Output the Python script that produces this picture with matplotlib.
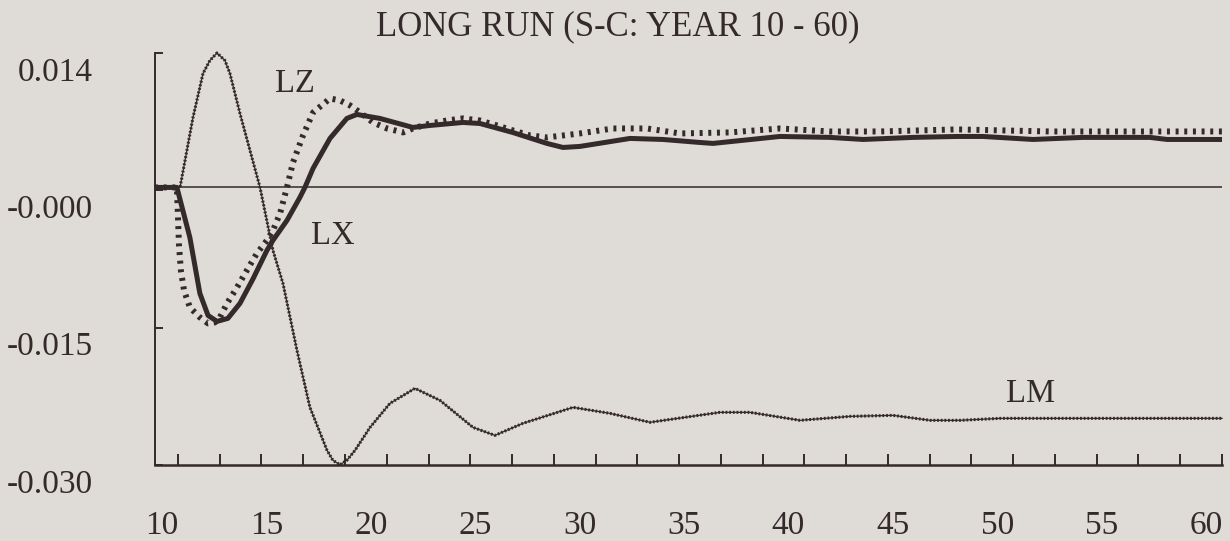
import numpy as np
import matplotlib
matplotlib.use("Agg")
import matplotlib.pyplot as plt
from matplotlib.ticker import FormatStrFormatter
from matplotlib.transforms import ScaledTranslation

plt.rcParams['font.family'] = ['Liberation Serif', 'DejaVu Serif']

INK = '#342a2b'
PAPER = '#dfdbd7'

# simulated responses, years 10 - 60
lx_year = [8.90, 9.95, 10.57, 11.05, 11.44, 11.87, 12.39, 12.97, 13.60, 14.26, 14.55,
           15.22, 15.84, 16.08, 16.47, 17.28, 18.09, 18.57, 19.67, 21.25, 22.07,
           23.65, 24.46, 26.04, 27.67, 28.44, 29.25, 31.65, 33.23, 35.00, 35.62,
           38.83, 41.23, 42.81, 45.20, 47.31, 48.55, 50.95, 53.34, 56.55, 57.37,
           60.00]
lx = [0.0, 0.0, -0.00532, -0.01127, -0.01361, -0.01425, -0.01393, -0.01233, -0.00970, -0.00670, -0.00563,
      -0.00351, -0.00106, 0.0, 0.00202, 0.00521, 0.00734, 0.00776, 0.00734, 0.00638, 0.00659,
      0.00691, 0.00680, 0.00584, 0.00468, 0.00425, 0.00436, 0.00521, 0.00510, 0.00478, 0.00468,
      0.00542, 0.00532, 0.00510, 0.00532, 0.00542, 0.00542, 0.00510, 0.00532, 0.00532, 0.00510,
      0.00510]

lz_year = [8.90, 9.95, 10.05, 10.14, 10.29, 10.57, 11.05, 11.44, 11.77, 12.01,
           12.35, 12.83, 13.30, 13.78, 14.26, 14.55, 14.89, 15.22, 15.51, 15.99,
           16.47, 17.28, 17.76, 18.24, 18.72, 19.34, 20.01, 20.78, 21.25, 22.07,
           22.88, 23.65, 24.46, 25.28, 26.04, 26.86, 27.67, 29.25, 30.83, 32.46,
           34.04, 36.44, 38.83, 41.23, 43.62, 47.31, 51.76, 60.00]
lz = [0.0, 0.0, -0.00617, -0.00882, -0.01095, -0.01276, -0.01382, -0.01446, -0.01435, -0.01382,
      -0.01233, -0.01063, -0.00882, -0.00702, -0.00563, -0.00457, -0.00276, 0.0, 0.00266, 0.00553,
      0.00797, 0.00946, 0.00925, 0.00872, 0.00797, 0.00691, 0.00627, 0.00585, 0.00627, 0.00680,
      0.00712, 0.00734, 0.00712, 0.00659, 0.00606, 0.00553, 0.00532, 0.00574, 0.00627, 0.00627,
      0.00574, 0.00585, 0.00627, 0.00595, 0.00595, 0.00617, 0.00595, 0.00595]

lm_year = [8.90, 10.10, 10.72, 11.20, 11.53, 11.87, 12.25, 12.49, 12.97, 13.45,
           13.93, 14.55, 15.03, 15.70, 16.32, 17.14, 17.42, 17.76, 18.09, 18.48,
           19.20, 20.15, 21.35, 22.55, 24.13, 25.18, 26.52, 28.92, 30.69, 32.61,
           35.96, 37.39, 39.79, 42.18, 44.24, 46.02, 47.45, 49.37, 54.16, 60.00]
lm = [0.0, 0.0, 0.00744, 0.01212, 0.01350, 0.01430, 0.01350, 0.01212, 0.00787, 0.00393,
      0.0, -0.00670, -0.01021, -0.01733, -0.02339, -0.02796, -0.02902, -0.02950, -0.02902, -0.02796,
      -0.02552, -0.02297, -0.02137, -0.02265, -0.02552, -0.02637, -0.02509, -0.02339, -0.02403, -0.02498,
      -0.02392, -0.02392, -0.02477, -0.02435, -0.02424, -0.02477, -0.02477, -0.02456, -0.02456, -0.02456]

y_lo, y_hi = -0.02952, 0.0143

fig = plt.figure(figsize=(12.3, 5.41), dpi=100, facecolor=PAPER)
ax = fig.add_axes([0.126, 0.1405, 0.8675, 0.7616])
ax.set_facecolor(PAPER)

ax.axhline(0, color=INK, lw=1.1, zorder=1)
# LM: thin core with a dotted fringe for the ragged look
ax.plot(lm_year, lm, color=INK, lw=0.9, clip_on=False, zorder=2)
ax.plot(lm_year, lm, color=INK, lw=2.2, ls=(0, (0.6, 0.6)), clip_on=False, zorder=2)
ax.plot(lz_year, lz, color=INK, lw=4.3, ls=(0, (0.5, 0.95)), dash_capstyle='butt',
        clip_on=False, zorder=3)
ax.plot(lx_year, lx, color=INK, lw=3.6, solid_capstyle='butt', clip_on=False, zorder=4)

ax.set_xlim(8.9, 60)
ax.set_ylim(y_lo, y_hi)

ax.set_yticks(np.linspace(y_lo, y_hi, 4))
ax.yaxis.set_major_formatter(FormatStrFormatter('%.3f'))
ax.tick_params(axis='y', direction='in', length=5.8, width=1.4, color=INK,
               pad=45, labelsize=24, labelcolor=INK)

ax.set_xticks(range(10, 61, 5))
ax.set_xticks(range(10, 61, 2), minor=True)
ax.xaxis.remove_overlapping_locs = False
ax.tick_params(axis='x', which='major', length=0, pad=33, labelsize=24, labelcolor=INK)
ax.tick_params(axis='x', which='minor', direction='in', length=8, width=1.4, color=INK)

for side in ('top', 'right'):
    ax.spines[side].set_visible(False)
ax.spines['left'].set_linewidth(1.4)
ax.spines['bottom'].set_linewidth(1.8)
for side in ('left', 'bottom'):
    ax.spines[side].set_color(INK)

# labels sit a little off their ticks
shift_x = ScaledTranslation(-0.16, 0, fig.dpi_scale_trans)
shift_y = ScaledTranslation(0, -0.16, fig.dpi_scale_trans)
for lab in ax.get_xticklabels():
    lab.set_transform(lab.get_transform() + shift_x)
for lab in ax.get_yticklabels():
    lab.set_transform(lab.get_transform() + shift_y)

ax.text(15.60, 0.0101, 'LZ', ha='center', va='baseline', fontsize=23.5, color=INK)
ax.text(17.42, -0.00606, 'LX', ha='center', va='baseline', fontsize=23.5, color=INK)
ax.text(50.85, -0.02286, 'LM', ha='center', va='baseline', fontsize=23.5, color=INK)

fig.text(0.502, 0.9353, 'LONG RUN (S-C: YEAR 10 - 60)', ha='center', va='baseline',
         fontsize=25, color=INK)

fig.savefig('out.png', dpi=100, facecolor=PAPER)
